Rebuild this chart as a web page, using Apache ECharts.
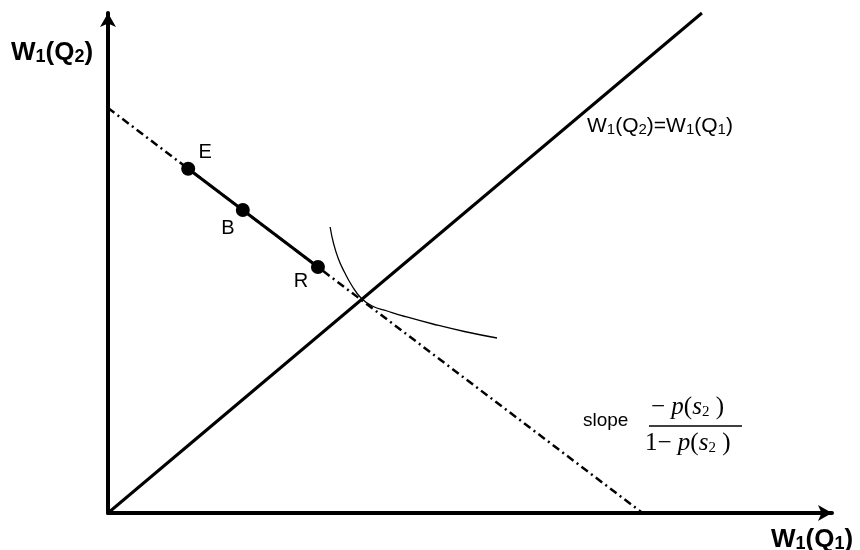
<!DOCTYPE html>
<html>
<head>
<meta charset="utf-8">
<script src="https://cdn.jsdelivr.net/npm/echarts@6/dist/echarts.min.js"></script>
<style>html,body{margin:0;padding:0;background:#fff}#c{width:860px;height:550px}</style>
</head>
<body>
<div id="c"></div>
<script>
// Data (in abstract wealth units; 45-degree line is y = x)
var xMax = 12.19, yMax = 10;
var certaintyLine = [[0, 0], [10, 10]];
var budgetLine = [[0, 8.1], [9, 0]];
var pointNames = ["E", "B", "R"];
var pointX = [1.35, 2.27, 3.535];
var pointY = [6.885, 6.06, 4.92];
var curveX = [3.74, 3.80, 3.88, 3.98, 4.10, 4.26, 4.45, 4.70, 5.00, 5.47, 6.00, 6.55];
var curveY = [5.72, 5.38, 5.08, 4.82, 4.56, 4.30, 4.14, 4.04, 3.93, 3.78, 3.63, 3.50];
var yAxisTitle = ["W", "1", "(Q", "2", ")"];
var xAxisTitle = ["W", "1", "(Q", "1", ")"];

var chart = echarts.init(document.getElementById('c'), null, {renderer: 'canvas'});

var pts = pointNames.map(function (n, i) { return [pointX[i], pointY[i], n]; });
var labelOffsets = {E: [17, -16], B: [-15, 18], R: [-17, 14]};
var curve = curveX.map(function (x, i) { return [x, curveY[i]]; });

function richTitle(parts) {
  return '{m|' + parts[0] + '}{s|' + parts[1] + '}{m|' + parts[2] + '}{s|' + parts[3] + '}{m|' + parts[4] + '}';
}
var titleRich = {
  m: {fontSize: 26, fontWeight: 'bold', fontFamily: 'Liberation Sans', lineHeight: 30, verticalAlign: 'bottom', fill: '#000'},
  s: {fontSize: 18, fontWeight: 'bold', fontFamily: 'Liberation Sans', lineHeight: 17, verticalAlign: 'bottom', fill: '#000'}
};
var fracRich = {
  m: {fontSize: 25, fontFamily: 'Liberation Serif', lineHeight: 28, verticalAlign: 'bottom'},
  i: {fontSize: 25, fontFamily: 'Liberation Serif', fontStyle: 'italic', lineHeight: 28, verticalAlign: 'bottom'},
  s: {fontSize: 15, fontFamily: 'Liberation Serif', lineHeight: 15, verticalAlign: 'bottom'}
};

var option = {
  animation: false,
  backgroundColor: '#fff',
  grid: {left: 108, right: 28, top: 13, bottom: 37},
  xAxis: {
    type: 'value', min: 0, max: xMax,
    axisLine: {show: true, lineStyle: {color: '#000', width: 4}, symbol: ['none', 'arrow'], symbolSize: [12, 14]},
    axisTick: {show: false}, axisLabel: {show: false}, splitLine: {show: false}
  },
  yAxis: {
    type: 'value', min: 0, max: yMax,
    axisLine: {show: true, lineStyle: {color: '#000', width: 4}, symbol: ['none', 'arrow'], symbolSize: [12, 14]},
    axisTick: {show: false}, axisLabel: {show: false}, splitLine: {show: false}
  },
  series: [
    {
      type: 'line', data: certaintyLine, showSymbol: false, clip: false,
      lineStyle: {color: '#000', width: 3}, z: 3
    },
    {
      type: 'line', data: budgetLine, showSymbol: false, clip: false,
      lineStyle: {color: '#000', width: 2.5, type: [8, 4, 2, 4]}, z: 2
    },
    {
      type: 'line', data: [pts[0].slice(0, 2), pts[2].slice(0, 2)], showSymbol: false,
      lineStyle: {color: '#000', width: 3}, z: 4
    },
    {
      type: 'line', data: curve, smooth: true, showSymbol: false,
      lineStyle: {color: '#000', width: 1.3}, z: 3
    },
    {
      type: 'scatter', symbolSize: 14, itemStyle: {color: '#000', opacity: 1}, z: 5,
      data: pts.map(function (p) {
        return {
          value: p,
          label: {
            show: true, formatter: p[2], position: 'inside', offset: labelOffsets[p[2]],
            color: '#000', fontSize: 20, fontFamily: 'Liberation Sans'
          }
        };
      })
    }
  ],
  graphic: [
    {
      type: 'text', left: 11, top: 40,
      style: {text: richTitle(yAxisTitle), rich: titleRich}
    },
    {
      type: 'text', left: 771, top: 527,
      style: {text: richTitle(xAxisTitle), rich: titleRich}
    },
    {
      type: 'text', left: 587, top: 116,
      style: {
        text: '{m|W}{s|1}{m|(Q}{s|2}{m|)=W}{s|1}{m|(Q}{s|1}{m|)}',
        rich: {
          m: {fontSize: 21, fontFamily: 'Liberation Sans', lineHeight: 26, verticalAlign: 'bottom'},
          s: {fontSize: 15, fontFamily: 'Liberation Sans', lineHeight: 15, verticalAlign: 'bottom'}
        }
      }
    },
    {
      type: 'text', left: 583, top: 411,
      style: {text: 'slope', fontSize: 19, fontFamily: 'Liberation Sans', fill: '#000'}
    },
    {
      type: 'text', left: 651, top: 395,
      style: {text: '{m|− }{i|p}{m|(}{i|s}{s|2}{m| )}', rich: fracRich}
    },
    {
      type: 'line', shape: {x1: 649, y1: 426, x2: 742, y2: 426},
      style: {stroke: '#000', lineWidth: 1.3}
    },
    {
      type: 'text', left: 645, top: 431,
      style: {text: '{m|1− }{i|p}{m|(}{i|s}{s|2}{m| )}', rich: fracRich}
    }
  ]
};
chart.setOption(option);
</script>
</body>
</html>
